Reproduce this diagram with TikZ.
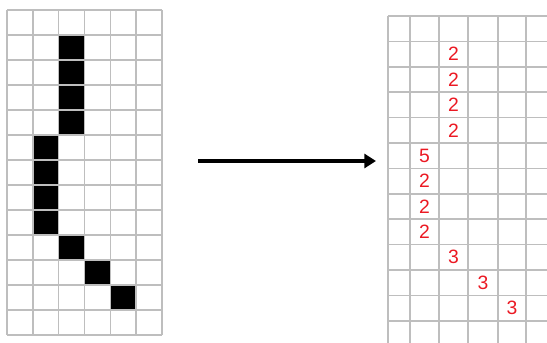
\documentclass[tikz,border=0pt]{standalone}
\usepackage{fontspec}
\setmainfont{Liberation Sans}
\usetikzlibrary{arrows.meta}

\definecolor{gridgray}{RGB}{190,190,190}
\definecolor{countred}{RGB}{235,25,35}

% left grid: origin and cell size (in px)
\newcommand*{\lx}{7}
\newcommand*{\ly}{10}
\newcommand*{\lw}{25.83}
\newcommand*{\lh}{25}
% right grid: origin and row height
\newcommand*{\ry}{16}
\newcommand*{\rh}{25.4}

\begin{document}
\begin{tikzpicture}
[
	x=0.03cm, y=-0.03cm,
	gridline/.style={draw=gridgray,line width=1.3pt},
	pixel/.style={fill=black},
	count/.style={text=countred,inner sep=0pt,font=\fontsize{16.5}{16.5}\selectfont}
]
	\useasboundingbox (0,0) rectangle (547,343);

	% left image
	\foreach \c/\r in {2/1,2/2,2/3,2/4,1/5,1/6,1/7,1/8,2/9,3/10,4/11}
		\fill[pixel] (\lx+\c*\lw,\ly+\r*\lh) rectangle ++(\lw,\lh);
	\foreach \c in {0,...,6}
		\draw[gridline] (\lx+\c*\lw,\ly) -- (\lx+\c*\lw,\ly+13*\lh);
	\foreach \r in {0,...,13}
		\draw[gridline] (\lx,\ly+\r*\lh) -- (\lx+6*\lw,\ly+\r*\lh);

	% right image, cut off at the page edge
	\begin{scope}
		\clip (0,0) rectangle (547,343);
		\foreach \x in {388,410,439,468,498,526}
			\draw[gridline] (\x,\ry) -- (\x,\ry+14*\rh);
		\foreach \r in {0,...,13}
			\draw[gridline] (388,\ry+\r*\rh) -- (560,\ry+\r*\rh);
	\end{scope}

	% counts
	\foreach \x/\r/\v [count=\i] in {453.5/1/2,453.5/2/2,453.5/3/2,453.5/4/2,424.5/5/5,424.5/6/2,424.5/7/2,424.5/8/2,453.5/9/3,483/10/3,512/11/3}
		\node[count] (count\i) at (\x,\ry+\r*\rh+0.5*\rh) {\v};

	% arrow
	\coordinate (arrowtail) at (198,161);
	\coordinate (arrowtip) at (376,161);
	\draw[-{Triangle[length=10pt,width=12pt]},line width=3.2pt] (arrowtail) -- (arrowtip);

\end{tikzpicture}
\end{document}
